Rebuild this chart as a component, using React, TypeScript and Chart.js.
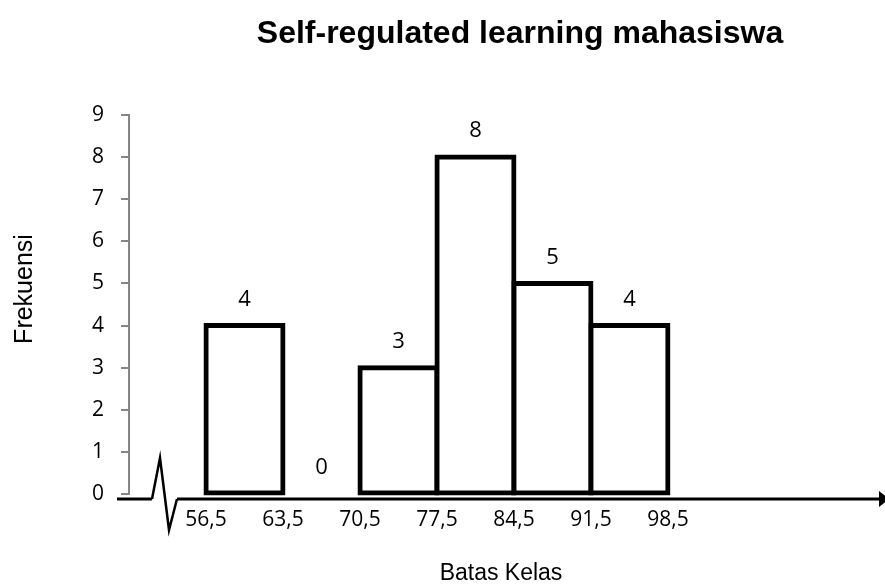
import React, { useEffect, useRef } from "react";
import { Chart, registerables } from "chart.js";

Chart.register(...registerables);

const chartTitle = "Self-regulated learning mahasiswa";
const xAxisTitle = "Batas Kelas";
const yAxisTitle = "Frekuensi";
const classBoundaries = [56.5, 63.5, 70.5, 77.5, 84.5, 91.5, 98.5];
const classMidpoints = [60, 67, 74, 81, 88, 95];
const frequencies = [4, 0, 3, 8, 5, 4];
const yMin = 0;
const yMax = 9;

const NUM_FONT = "'Open Sans', 'DejaVu Sans', sans-serif";
const TXT_FONT = "'Liberation Sans', Arial, sans-serif";

const decorPlugin = {
  id: "decor",
  afterDatasetsDraw(chart: any) {
    const { ctx, chartArea, scales } = chart;
    const y0 = scales.y.getPixelForValue(0) + 5;
    const left = chartArea.left;
    ctx.save();
    // x axis with break symbol and arrow
    ctx.strokeStyle = "#000";
    ctx.lineJoin = "miter";
    ctx.lineWidth = 3;
    ctx.beginPath();
    ctx.moveTo(left - 12, y0);
    ctx.lineTo(left + 23, y0);
    ctx.stroke();
    ctx.lineWidth = 2.5;
    ctx.beginPath();
    ctx.moveTo(left + 23, y0);
    ctx.lineTo(left + 31, y0 - 41);
    ctx.lineTo(left + 40, y0 + 31);
    ctx.lineTo(left + 48, y0);
    ctx.stroke();
    ctx.lineWidth = 3;
    ctx.beginPath();
    ctx.moveTo(left + 48, y0);
    ctx.lineTo(chartArea.right + 2, y0);
    ctx.stroke();
    ctx.fillStyle = "#000";
    ctx.beginPath();
    ctx.moveTo(chartArea.right + 1, y0 - 8);
    ctx.lineTo(chartArea.right + 11, y0);
    ctx.lineTo(chartArea.right + 1, y0 + 8);
    ctx.closePath();
    ctx.fill();

    // data labels
    const meta = chart.getDatasetMeta(0);
    ctx.font = `22px ${NUM_FONT}`;
    ctx.textAlign = "center";
    ctx.textBaseline = "middle";
    meta.data.forEach((bar: any, i: number) => {
      ctx.fillText(String(frequencies[i]), bar.x, bar.y - 26);
    });

    // titles
    ctx.font = `bold 32px ${TXT_FONT}`;
    ctx.textBaseline = "alphabetic";
    ctx.fillText(chartTitle, 520, 43);
    ctx.font = `23px ${TXT_FONT}`;
    ctx.fillText(xAxisTitle, 501, 580);
    ctx.translate(32, 289);
    ctx.rotate(-Math.PI / 2);
    ctx.font = `25px ${TXT_FONT}`;
    ctx.fillText(yAxisTitle, 0, 0);
    ctx.restore();
  },
};

export default function App() {
  const canvasRef = useRef<HTMLCanvasElement | null>(null);

  useEffect(() => {
    if (!canvasRef.current) return;
    const chart = new Chart(canvasRef.current, {
      type: "bar",
      data: {
        datasets: [
          {
            data: classMidpoints.map((m, i) => ({ x: m, y: frequencies[i] })),
            backgroundColor: "#ffffff",
            borderColor: "#000000",
            borderWidth: 5,
            borderSkipped: false,
            inflateAmount: 2.5,
            barPercentage: 1,
            categoryPercentage: 1,
            clip: false as any,
          } as any,
        ],
      },
      options: {
        animation: false,
        responsive: true,
        maintainAspectRatio: false,
        layout: { padding: { top: 115, right: 7, bottom: 0, left: 0 } },
        plugins: {
          legend: { display: false },
          tooltip: { enabled: false },
          title: { display: false },
        },
        scales: {
          x: {
            type: "linear",
            offset: false,
            min: 49.5,
            max: 117.6,
            afterFit: (s: any) => {
              s.height = 93;
            },
            afterBuildTicks: (s: any) => {
              s.ticks = classBoundaries.map((v) => ({ value: v }));
            },
            grid: { display: false, drawTicks: false, offset: false },
            border: { display: false },
            ticks: {
              autoSkip: false,
              maxRotation: 0,
              padding: 13,
              color: "#000",
              font: { family: NUM_FONT, size: 21 },
              callback: (v: any) => Number(v).toFixed(1).replace(".", ","),
            },
          },
          y: {
            min: yMin,
            max: yMax,
            afterFit: (s: any) => {
              s.width = 129;
            },
            grid: {
              drawOnChartArea: false,
              drawTicks: true,
              tickLength: 8,
              color: "#868686",
              lineWidth: 2,
            },
            border: { display: true, color: "#868686", width: 2 },
            ticks: {
              stepSize: 1,
              padding: 17,
              color: "#000",
              font: { family: NUM_FONT, size: 21 },
            },
          },
        },
      },
      plugins: [decorPlugin],
    });
    return () => chart.destroy();
  }, []);

  return (
    <div style={{ position: "fixed", left: 0, top: 0, width: 885, height: 587, background: "#fff" }}>
      <canvas ref={canvasRef} />
    </div>
  );
}
